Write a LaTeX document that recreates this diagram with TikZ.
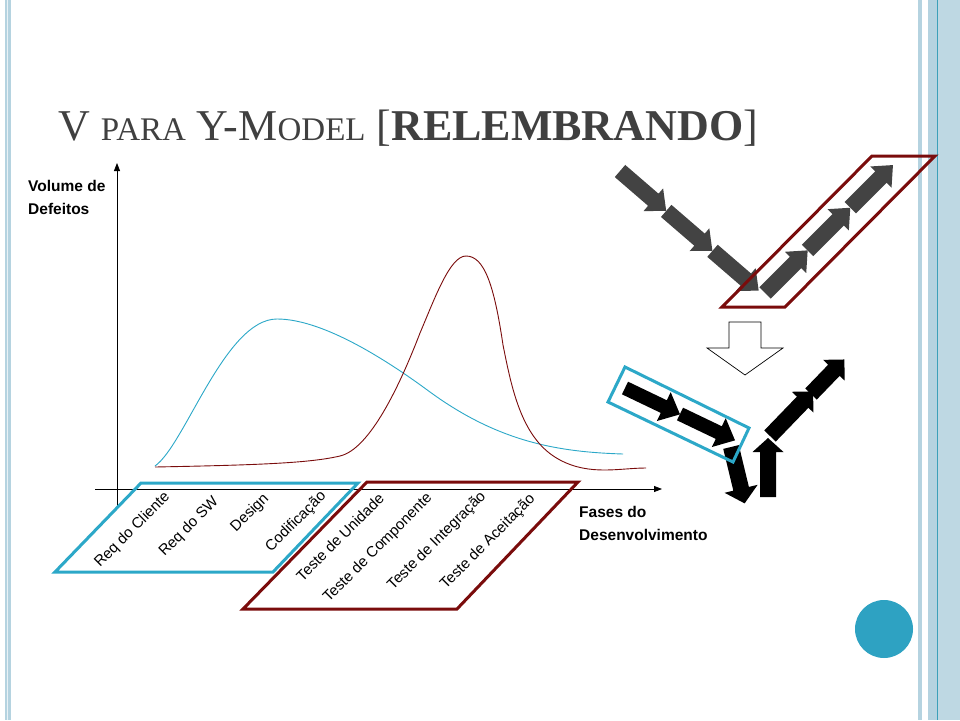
\documentclass[tikz,border=0pt]{standalone}
\usepackage{fontspec}
\setmainfont{Liberation Serif}
\newfontfamily\arialf{Liberation Sans}
\usetikzlibrary{arrows.meta}
\definecolor{cblue}{RGB}{44,168,200}
\definecolor{cred}{RGB}{122,12,12}
\definecolor{cgray}{RGB}{67,67,67}
\definecolor{ctitle}{RGB}{64,64,64}
\definecolor{stripe}{RGB}{181,211,224}
\definecolor{stripeb}{RGB}{190,216,227}
\definecolor{stripeline}{RGB}{60,160,185}
\definecolor{dotblue}{RGB}{46,162,194}
\newcommand{\blockarr}[8]{%
  \begin{scope}[shift={(#1,#2)},rotate=#3]
    \fill[#8] (0,#5) -- ({#4-#7},#5) -- ({#4-#7},#6) -- (#4,0) -- ({#4-#7},-#6) -- ({#4-#7},-#5) -- (0,-#5) -- cycle;
  \end{scope}}
\tikzset{
  axisline/.style={line width=0.8pt,-{Triangle[length=8pt,width=6pt]}},
  curveb/.style={cblue,line width=0.9pt},
  curver/.style={cred,line width=0.9pt},
  bluebox/.style={cblue,line width=3pt,line join=miter},
  redbox/.style={cred,line width=3pt,line join=miter},
  phase/.style={font=\arialf\fontsize{15}{15}\selectfont,rotate=45,inner sep=0pt},
  axlabel/.style={font=\arialf\bfseries\fontsize{15.5}{22.5}\selectfont,align=left,inner sep=0pt,anchor=north west},
}
\begin{document}
\begin{tikzpicture}[x=1pt,y=-1pt]
\useasboundingbox (0,0) rectangle (960,720);
\fill[white] (0,0) rectangle (960,720);
% borders
\fill[stripe] (5,0) rectangle (11,720);
\draw[white!70!stripe,line width=0.8pt] (7,0) -- (7,720);
\fill[stripe] (918,0) rectangle (922,720);
\fill[stripe] (928,0) rectangle (937,720);
\fill[stripeb] (937,0) rectangle (960,720);
\draw[stripeline,line width=0.8pt] (937,0) -- (937,720);
% title
\node[anchor=base west,text=ctitle,inner sep=0pt] (title) at (58,140)
  {\fontsize{44}{44}\selectfont V {\fontsize{33}{33}\selectfont PARA} Y-M{\fontsize{33}{33}\selectfont ODEL} [\textbf{RELEMBRANDO}]};
% axes
\coordinate (yb) at (117,507);
\coordinate (yt) at (117,163);
\coordinate (xl) at (95,489);
\coordinate (xr) at (662,489);
\draw[axisline] (yb) -- (yt);
\draw[axisline] (xl) -- (xr);
\node[axlabel] (ylab) at (28,180.5) {Volume de\\Defeitos};
\node[axlabel] (xlab) at (579,506.5) {Fases do\\Desenvolvimento};
% curves
\draw[curveb] (155,466) .. controls (185,445) and (225,319) .. (277,319)
  .. controls (320,319) and (380,355) .. (430,392)
  .. controls (500,443) and (560,452) .. (623,454);
\draw[curver] (155,467) .. controls (260,465) and (310,463) .. (340,456)
  .. controls (370,449) and (400,385) .. (420,333)
  .. controls (435,297.75) and (450,256) .. (466,256)
  .. controls (484,256) and (494,284) .. (503,345)
  .. controls (512,390) and (522,440) .. (560,460)
  .. controls (590,476) and (620,468) .. (646,468);
% phase boxes
\draw[bluebox] (141,483) -- (358,483) -- (273,572) -- (55,572) -- cycle;
\draw[redbox] (367,482) -- (578,482) -- (457,609) -- (243,609) -- cycle;
% phase labels
\node[phase] (p1) at (132.5,530) {Req do Cliente};
\node[phase] (p2) at (189,527) {Req do SW};
\node[phase] (p3) at (250,513) {Design};
\node[phase] (p4) at (296,522) {Codificação};
\node[phase] (p5) at (340,537) {Teste de Unidade};
\node[phase] (p6) at (378,548) {Teste de Componente};
\node[phase] (p7) at (437,541) {Teste de Integração};
\node[phase] (p8) at (488,542) {Teste de Aceitação};
% V model arrows (gray)
\blockarr{620}{171}{-40.8}{61}{8}{15}{17}{cgray}
\blockarr{666.2}{210.9}{-40.8}{61}{8}{15}{17}{cgray}
\blockarr{712.5}{250.8}{-40.8}{61}{8}{15}{17}{cgray}
\blockarr{765}{293}{45}{60.3}{8}{15}{17}{cgray}
\blockarr{807.6}{250.4}{45}{60.3}{8}{15}{17}{cgray}
\blockarr{850.3}{207.7}{45}{60.3}{8}{15}{17}{cgray}
\draw[redbox] (872,156) -- (935,156) -- (785,307) -- (722,307) -- cycle;
% white down arrow
\draw[black,line width=0.7pt,fill=white] (729,322) -- (761,322) -- (761,348) -- (783,348) -- (745,375) -- (707,348) -- (729,348) -- cycle;
% Y model arrows (black)
\blockarr{625}{388}{-25.6}{61}{7}{16}{18}{black}
\blockarr{680}{414}{-25.6}{61}{7}{16}{18}{black}
\blockarr{731}{447}{-76.4}{58}{8}{17}{15}{black}
\blockarr{768}{497}{90}{59}{8}{15.5}{14}{black}
\blockarr{770}{436}{46}{62}{8}{15}{15}{black}
\blockarr{811}{394}{46}{48}{8}{15}{15}{black}
\draw[bluebox] (625,367) -- (749,428) -- (733,462) -- (608,402) -- cycle;
% dot
\fill[dotblue] (884,629) circle (29);
\end{tikzpicture}
\end{document}
